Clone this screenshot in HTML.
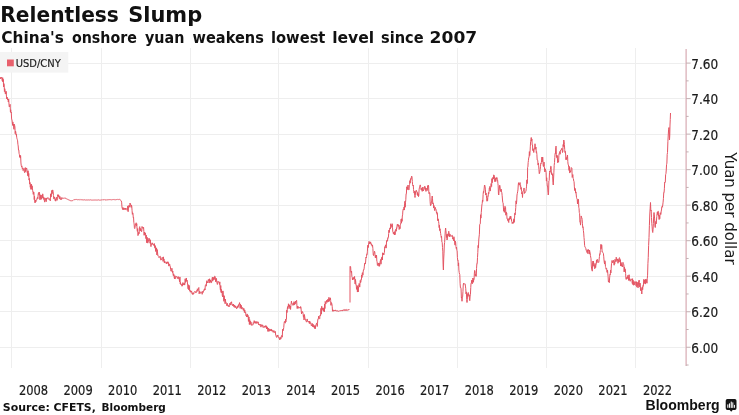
<!DOCTYPE html>
<html lang="en">
<head>
<meta charset="utf-8">
<title>Relentless Slump</title>
<style>
html,body{margin:0;padding:0;background:#fff;}
body{width:739px;height:415px;overflow:hidden;position:relative;font-family:"DejaVu Sans","Liberation Sans",sans-serif;}
svg{position:absolute;left:0;top:0;display:block;}
.t1{font-family:"DejaVu Sans","Liberation Sans",sans-serif;font-weight:bold;font-size:20.5px;fill:#111;}
.t2{font-family:"DejaVu Sans","Liberation Sans",sans-serif;font-weight:bold;font-size:15.5px;fill:#111;}
.src{font-family:"DejaVu Sans","Liberation Sans",sans-serif;font-weight:bold;font-size:11px;fill:#111;}
.ax text{font-family:"DejaVu Sans Condensed","DejaVu Sans","Liberation Sans",sans-serif;font-stretch:condensed;font-size:14px;fill:#1a1a1a;stroke:#1a1a1a;stroke-width:0.2px;}
.lg{font-family:"DejaVu Sans","Liberation Sans",sans-serif;font-size:10px;fill:#1a1a1a;stroke:#1a1a1a;stroke-width:0.15px;}
.yt{font-family:"DejaVu Sans","Liberation Sans",sans-serif;font-size:15px;fill:#1a1a1a;}
.bb{font-family:"Liberation Sans",sans-serif;font-weight:bold;font-size:13.8px;fill:#111;}
.grid line{stroke:#eeeeee;stroke-width:1;shape-rendering:crispEdges;}
.tk line{stroke:#c4b0b3;stroke-width:1;}
</style>
</head>
<body>
<svg width="739" height="415" viewBox="0 0 739 415">
<rect x="0" y="0" width="739" height="415" fill="#ffffff"/>
<g class="grid">
<line x1="11.40" y1="48" x2="11.40" y2="367.5" />
<line x1="101.40" y1="48" x2="101.40" y2="367.5" />
<line x1="190.10" y1="48" x2="190.10" y2="367.5" />
<line x1="278.10" y1="48" x2="278.10" y2="367.5" />
<line x1="368.10" y1="48" x2="368.10" y2="367.5" />
<line x1="457.30" y1="48" x2="457.30" y2="367.5" />
<line x1="546.50" y1="48" x2="546.50" y2="367.5" />
<line x1="635.10" y1="48" x2="635.10" y2="367.5" />
<line x1="0" y1="63.10" x2="685.7" y2="63.10" />
<line x1="0" y1="98.62" x2="685.7" y2="98.62" />
<line x1="0" y1="134.14" x2="685.7" y2="134.14" />
<line x1="0" y1="169.66" x2="685.7" y2="169.66" />
<line x1="0" y1="205.18" x2="685.7" y2="205.18" />
<line x1="0" y1="240.70" x2="685.7" y2="240.70" />
<line x1="0" y1="276.22" x2="685.7" y2="276.22" />
<line x1="0" y1="311.74" x2="685.7" y2="311.74" />
<line x1="0" y1="347.26" x2="685.7" y2="347.26" />
</g>
<rect x="0" y="52" width="68.3" height="20.6" fill="#f4f4f4"/>
<rect x="7" y="59.5" width="6.8" height="6.8" fill="#e8606c"/>
<text class="lg" x="15.8" y="66.8" textLength="45" lengthAdjust="spacingAndGlyphs">USD/CNY</text>
<path d="M0.50,79.00 L0.83,77.08 L1.17,78.24 L1.50,77.50 L1.80,77.39 L2.10,80.11 L2.40,81.18 L2.70,77.71 L3.00,82.00 L3.29,79.35 L3.57,86.92 L3.86,83.55 L4.14,84.50 L4.43,91.58 L4.71,88.63 L5.00,90.00 L5.29,93.62 L5.57,91.82 L5.86,94.08 L6.14,91.27 L6.43,96.05 L6.71,98.87 L7.00,97.00 L7.33,97.82 L7.67,99.95 L8.00,99.00 L8.33,102.00 L8.67,98.93 L9.00,104.00 L9.28,107.01 L9.56,106.71 L9.84,105.45 L10.12,104.34 L10.41,111.85 L10.69,109.79 L10.97,112.71 L11.25,112.00 L11.62,118.95 L12.00,120.00 L12.29,122.59 L12.58,125.12 L12.88,121.93 L13.17,126.01 L13.46,124.15 L13.75,128.90 L14.04,129.37 L14.33,124.19 L14.62,125.41 L14.92,126.96 L15.21,133.71 L15.50,131.00 L15.80,132.05 L16.10,135.09 L16.40,134.10 L16.70,137.26 L17.00,138.75 L17.30,139.48 L17.60,140.84 L17.90,144.29 L18.20,145.91 L18.50,150.03 L18.80,149.92 L19.10,153.47 L19.40,154.53 L19.70,157.20 L20.00,155.00 L20.31,158.05 L20.62,155.81 L20.94,162.97 L21.25,165.50 L21.56,166.75 L21.88,165.85 L22.19,168.70 L22.50,168.75 L22.81,167.87 L23.12,170.65 L23.44,169.89 L23.75,169.01 L24.06,168.39 L24.38,171.87 L24.69,172.70 L25.00,171.00 L25.33,167.57 L25.67,171.68 L26.00,169.00 L26.30,168.98 L26.60,167.96 L26.90,169.30 L27.20,172.57 L27.50,171.50 L27.81,175.78 L28.12,170.69 L28.44,176.52 L28.75,173.45 L29.06,180.08 L29.38,178.43 L29.69,184.10 L30.00,182.50 L30.30,187.25 L30.60,184.54 L30.90,189.39 L31.20,185.02 L31.50,184.20 L31.80,189.28 L32.10,185.84 L32.40,188.14 L32.70,190.78 L33.00,192.50 L33.31,194.42 L33.61,191.93 L33.92,192.10 L34.22,199.59 L34.53,196.33 L34.83,202.41 L35.14,202.98 L35.44,199.99 L35.75,202.00 L36.05,200.74 L36.35,200.26 L36.65,200.27 L36.95,198.95 L37.25,197.71 L37.55,197.24 L37.85,198.79 L38.15,194.45 L38.45,192.91 L38.75,192.50 L39.03,195.09 L39.31,192.20 L39.59,193.57 L39.88,199.73 L40.16,197.04 L40.44,198.13 L40.72,194.81 L41.00,199.50 L41.29,198.49 L41.57,198.98 L41.86,195.10 L42.14,198.20 L42.43,197.80 L42.71,193.84 L43.00,196.00 L43.29,197.71 L43.57,197.17 L43.86,199.54 L44.14,197.71 L44.43,201.19 L44.71,202.14 L45.00,201.00 L45.31,198.39 L45.62,198.19 L45.94,200.70 L46.25,201.67 L46.56,197.96 L46.88,198.55 L47.19,198.81 L47.50,198.00 L47.81,197.56 L48.12,197.98 L48.44,198.03 L48.75,198.50 L49.06,199.62 L49.38,198.73 L49.69,199.28 L50.00,200.00 L50.31,200.87 L50.62,193.81 L50.94,196.79 L51.25,196.83 L51.56,192.27 L51.88,190.34 L52.19,193.62 L52.50,190.00 L52.81,189.96 L53.12,191.56 L53.44,195.49 L53.75,198.00 L54.03,199.05 L54.31,196.90 L54.59,198.04 L54.88,198.33 L55.16,200.59 L55.44,199.25 L55.72,201.18 L56.00,200.00 L56.29,197.21 L56.57,197.76 L56.86,199.29 L57.14,200.30 L57.43,196.81 L57.71,194.73 L58.00,196.00 L58.30,194.73 L58.60,196.67 L58.90,195.57 L59.20,198.35 L59.50,198.75 L59.80,196.36 L60.10,197.02 L60.40,199.45 L60.70,199.05 L61.00,198.75 L61.31,199.63 L61.62,198.16 L61.92,197.45 L62.23,198.44 L62.54,198.58 L62.85,198.31 L63.15,198.28 L63.46,198.26 L63.77,198.20 L64.08,198.14 L64.38,198.28 L64.69,197.92 L65.00,198.00 L65.30,197.95 L65.60,198.48 L65.90,198.60 L66.20,198.79 L66.50,198.72 L66.80,199.08 L67.10,199.22 L67.40,199.09 L67.70,199.45 L68.00,199.63 L68.30,199.72 L68.60,199.81 L68.90,199.87 L69.20,200.04 L69.50,200.14 L69.80,200.23 L70.10,200.59 L70.40,200.61 L70.70,200.97 L71.00,201.00 L71.31,200.70 L71.62,200.93 L71.92,200.73 L72.23,200.71 L72.54,200.58 L72.85,200.47 L73.15,200.22 L73.46,199.88 L73.77,200.06 L74.08,199.71 L74.38,199.65 L74.69,199.68 L75.00,199.50 L75.30,199.53 L75.61,199.50 L75.91,199.72 L76.21,199.61 L76.52,199.51 L76.82,199.49 L77.12,199.75 L77.42,199.61 L77.73,199.75 L78.03,199.59 L78.33,199.55 L78.64,199.70 L78.94,199.82 L79.24,199.58 L79.55,199.84 L79.85,199.91 L80.15,199.88 L80.45,199.90 L80.76,199.59 L81.06,199.85 L81.36,199.96 L81.67,199.65 L81.97,199.76 L82.27,199.77 L82.58,199.89 L82.88,199.86 L83.18,199.90 L83.48,200.03 L83.79,199.74 L84.09,199.78 L84.39,199.82 L84.70,199.83 L85.00,200.00 L85.30,199.83 L85.60,200.19 L85.90,200.14 L86.20,199.83 L86.50,200.00 L86.80,199.93 L87.10,199.93 L87.40,199.94 L87.70,200.06 L88.00,200.03 L88.30,199.94 L88.60,199.88 L88.90,199.93 L89.20,199.85 L89.50,200.02 L89.80,200.09 L90.10,199.95 L90.40,199.83 L90.70,199.87 L91.00,199.95 L91.30,200.04 L91.60,200.11 L91.90,199.95 L92.20,200.12 L92.50,200.05 L92.80,199.97 L93.10,199.95 L93.40,200.00 L93.70,200.08 L94.00,199.97 L94.30,200.08 L94.60,199.98 L94.90,199.90 L95.20,200.01 L95.50,200.08 L95.80,199.83 L96.10,199.97 L96.40,199.97 L96.70,200.15 L97.00,200.17 L97.30,199.95 L97.60,200.16 L97.90,200.12 L98.20,199.90 L98.50,199.99 L98.80,199.85 L99.10,200.13 L99.40,200.06 L99.70,200.15 L100.00,200.00 L100.30,200.11 L100.60,200.05 L100.90,200.07 L101.19,200.00 L101.49,199.80 L101.79,199.99 L102.09,199.75 L102.39,199.80 L102.69,200.04 L102.99,199.74 L103.28,199.75 L103.58,199.75 L103.88,200.06 L104.18,199.77 L104.48,199.70 L104.78,200.02 L105.07,199.72 L105.37,200.00 L105.67,199.93 L105.97,199.99 L106.27,200.02 L106.57,199.87 L106.87,199.95 L107.16,199.64 L107.46,199.92 L107.76,199.81 L108.06,199.88 L108.36,199.63 L108.66,199.88 L108.96,199.95 L109.25,199.59 L109.55,199.69 L109.85,199.78 L110.15,199.88 L110.45,199.64 L110.75,199.60 L111.04,199.62 L111.34,199.76 L111.64,199.81 L111.94,199.66 L112.24,199.64 L112.54,199.65 L112.84,199.62 L113.13,199.64 L113.43,199.50 L113.73,199.66 L114.03,199.84 L114.33,199.61 L114.63,199.73 L114.93,199.49 L115.22,199.70 L115.52,199.71 L115.82,199.67 L116.12,199.60 L116.42,199.58 L116.72,199.64 L117.01,199.73 L117.31,199.43 L117.61,199.40 L117.91,199.65 L118.21,199.71 L118.51,199.54 L118.81,199.51 L119.10,199.61 L119.40,199.39 L119.70,199.41 L120.00,199.50 L120.31,199.75 L120.62,200.28 L120.94,200.55 L121.25,201.00 L121.62,202.16 L122.00,207.50 L122.30,208.39 L122.60,209.53 L122.90,207.36 L123.20,209.04 L123.50,208.19 L123.80,209.98 L124.10,209.21 L124.40,208.26 L124.70,208.28 L125.00,209.50 L125.31,208.07 L125.62,209.44 L125.94,209.15 L126.25,208.52 L126.56,209.08 L126.88,208.97 L127.19,210.32 L127.50,209.50 L127.81,205.91 L128.12,211.71 L128.44,206.90 L128.75,207.02 L129.06,205.19 L129.38,207.23 L129.69,206.32 L130.00,203.00 L130.29,203.90 L130.58,203.96 L130.88,206.02 L131.17,207.42 L131.46,205.08 L131.75,206.25 L132.05,210.32 L132.35,214.34 L132.65,212.75 L132.95,213.14 L133.25,217.50 L133.54,217.10 L133.83,222.53 L134.12,223.87 L134.42,227.74 L134.71,228.59 L135.00,227.50 L135.29,225.05 L135.58,224.05 L135.88,223.91 L136.17,222.78 L136.46,225.83 L136.75,223.75 L137.05,228.80 L137.35,231.37 L137.65,228.59 L137.95,235.60 L138.25,235.00 L138.54,232.50 L138.83,232.32 L139.12,233.66 L139.42,227.60 L139.71,226.61 L140.00,228.75 L140.29,230.91 L140.58,228.49 L140.88,229.25 L141.17,230.84 L141.46,231.75 L141.75,231.25 L142.06,226.47 L142.38,228.09 L142.69,227.94 L143.00,227.50 L143.29,228.46 L143.57,227.38 L143.86,231.38 L144.14,235.34 L144.43,232.01 L144.71,234.27 L145.00,235.00 L145.31,232.81 L145.62,234.81 L145.94,238.63 L146.25,235.10 L146.56,241.93 L146.88,242.88 L147.19,237.32 L147.50,241.25 L147.79,243.14 L148.08,239.76 L148.38,241.43 L148.67,240.93 L148.96,238.10 L149.25,238.75 L149.54,240.84 L149.82,241.38 L150.11,243.28 L150.39,239.78 L150.68,244.30 L150.96,246.63 L151.25,243.75 L151.56,244.39 L151.88,244.05 L152.19,242.82 L152.50,244.11 L152.81,243.76 L153.12,245.00 L153.44,244.97 L153.75,244.50 L154.06,245.67 L154.38,243.57 L154.69,247.62 L155.00,248.20 L155.31,245.61 L155.62,251.45 L155.94,250.44 L156.25,250.00 L156.56,247.84 L156.88,254.93 L157.19,249.55 L157.50,251.81 L157.81,255.63 L158.12,255.45 L158.44,255.90 L158.75,256.25 L159.04,257.72 L159.33,257.07 L159.62,256.69 L159.92,256.37 L160.21,256.23 L160.50,259.50 L160.79,260.10 L161.07,260.03 L161.36,259.02 L161.64,259.54 L161.93,257.90 L162.21,257.34 L162.50,258.00 L162.81,257.84 L163.12,261.43 L163.44,256.86 L163.75,260.28 L164.06,259.25 L164.38,263.04 L164.69,261.04 L165.00,262.50 L165.31,262.05 L165.62,262.33 L165.94,262.81 L166.25,263.58 L166.56,262.36 L166.88,263.94 L167.19,261.75 L167.50,263.00 L167.81,262.28 L168.12,261.84 L168.44,262.31 L168.75,266.00 L169.06,266.15 L169.38,263.89 L169.69,264.31 L170.00,266.25 L170.31,266.38 L170.62,269.71 L170.94,271.06 L171.25,271.31 L171.56,270.87 L171.88,268.18 L172.19,270.93 L172.50,272.50 L172.79,271.03 L173.08,274.55 L173.38,275.78 L173.67,273.84 L173.96,275.13 L174.25,278.00 L174.54,278.87 L174.82,275.63 L175.11,278.46 L175.39,278.56 L175.68,278.54 L175.96,276.03 L176.25,276.25 L176.56,276.58 L176.88,276.84 L177.19,277.17 L177.50,278.47 L177.81,277.66 L178.12,276.51 L178.44,278.55 L178.75,277.50 L179.04,278.21 L179.33,279.96 L179.62,281.77 L179.92,276.95 L180.21,283.78 L180.50,282.50 L180.80,284.51 L181.10,283.94 L181.40,284.93 L181.70,285.19 L182.00,286.25 L182.29,284.23 L182.58,285.57 L182.88,282.58 L183.17,284.59 L183.46,284.93 L183.75,283.75 L184.04,282.86 L184.32,283.10 L184.61,285.07 L184.89,284.11 L185.18,278.75 L185.46,282.40 L185.75,280.00 L186.04,281.59 L186.33,277.97 L186.62,280.95 L186.92,280.67 L187.21,280.17 L187.50,284.00 L187.79,285.02 L188.07,288.78 L188.36,284.76 L188.64,289.75 L188.93,289.09 L189.21,285.43 L189.50,289.00 L189.79,291.13 L190.08,290.24 L190.38,292.21 L190.67,291.56 L190.96,292.05 L191.25,291.25 L191.56,290.90 L191.88,293.31 L192.19,294.21 L192.50,294.24 L192.81,292.69 L193.12,294.46 L193.44,293.59 L193.75,294.00 L194.06,292.25 L194.38,291.74 L194.69,291.63 L195.00,291.85 L195.31,291.45 L195.62,292.49 L195.94,293.02 L196.25,292.00 L196.54,291.73 L196.82,290.53 L197.11,291.40 L197.39,288.82 L197.68,289.28 L197.96,290.55 L198.25,288.50 L198.54,288.48 L198.83,287.51 L199.12,293.87 L199.42,293.21 L199.71,291.21 L200.00,293.00 L200.31,292.67 L200.62,293.21 L200.94,293.48 L201.25,292.41 L201.56,291.79 L201.88,292.48 L202.19,294.30 L202.50,293.50 L202.81,291.22 L203.12,292.42 L203.44,290.61 L203.75,290.25 L204.06,289.61 L204.38,290.38 L204.69,288.73 L205.00,290.00 L205.31,285.38 L205.62,285.08 L205.94,284.60 L206.25,286.17 L206.56,281.88 L206.88,280.65 L207.19,283.03 L207.50,282.50 L207.79,281.75 L208.08,282.76 L208.38,279.45 L208.67,280.73 L208.96,280.36 L209.25,280.50 L209.54,278.78 L209.82,283.05 L210.11,280.16 L210.39,279.92 L210.68,281.82 L210.96,280.79 L211.25,282.50 L211.54,282.74 L211.83,280.30 L212.12,278.23 L212.42,277.16 L212.71,281.11 L213.00,279.00 L213.30,277.48 L213.60,279.64 L213.90,277.63 L214.20,279.56 L214.50,277.00 L214.78,276.17 L215.06,276.42 L215.34,277.16 L215.62,281.80 L215.91,281.07 L216.19,279.61 L216.47,278.40 L216.75,282.00 L217.06,283.02 L217.36,284.46 L217.67,283.21 L217.97,281.10 L218.28,281.48 L218.58,282.01 L218.89,282.61 L219.19,282.34 L219.50,284.50 L219.81,281.86 L220.12,287.39 L220.44,290.15 L220.75,285.54 L221.06,292.41 L221.38,289.38 L221.69,292.77 L222.00,291.25 L222.31,295.60 L222.62,296.87 L222.94,290.90 L223.25,294.10 L223.56,297.55 L223.88,301.30 L224.19,295.69 L224.50,300.00 L224.79,299.16 L225.08,303.73 L225.38,299.14 L225.67,301.72 L225.96,301.95 L226.25,303.75 L226.56,304.63 L226.88,305.76 L227.19,303.21 L227.50,305.50 L227.81,305.70 L228.12,306.29 L228.44,305.48 L228.75,305.50 L229.06,306.98 L229.38,304.29 L229.69,304.20 L230.00,303.10 L230.31,305.12 L230.62,303.54 L230.94,302.33 L231.25,303.00 L231.56,301.78 L231.88,304.90 L232.19,304.74 L232.50,305.66 L232.81,304.47 L233.12,305.37 L233.44,304.14 L233.75,306.25 L234.06,307.11 L234.38,304.96 L234.69,306.61 L235.00,307.74 L235.31,307.63 L235.62,305.84 L235.94,306.46 L236.25,307.50 L236.55,308.66 L236.85,307.50 L237.15,308.21 L237.45,307.88 L237.75,305.79 L238.05,307.38 L238.35,306.39 L238.65,304.39 L238.95,304.25 L239.25,304.50 L239.56,302.61 L239.86,304.89 L240.17,308.43 L240.47,304.21 L240.78,307.24 L241.08,305.18 L241.39,305.49 L241.69,309.10 L242.00,308.75 L242.30,307.99 L242.60,307.49 L242.90,308.14 L243.20,310.31 L243.50,310.33 L243.80,308.34 L244.10,309.45 L244.40,312.57 L244.70,309.91 L245.00,311.25 L245.31,312.44 L245.62,312.08 L245.94,315.52 L246.25,314.91 L246.56,317.02 L246.88,315.83 L247.19,313.93 L247.50,317.00 L247.81,315.35 L248.12,315.32 L248.44,321.42 L248.75,316.94 L249.06,316.99 L249.38,324.51 L249.69,319.63 L250.00,322.50 L250.29,324.45 L250.57,321.31 L250.86,323.21 L251.14,322.47 L251.43,325.33 L251.71,324.70 L252.00,324.50 L252.31,324.79 L252.62,324.98 L252.94,325.14 L253.25,322.60 L253.56,323.37 L253.88,322.39 L254.19,320.66 L254.50,322.00 L254.80,323.16 L255.10,322.50 L255.40,323.30 L255.70,321.47 L256.00,322.62 L256.30,322.49 L256.60,323.42 L256.90,321.46 L257.20,322.41 L257.50,323.00 L257.81,323.19 L258.12,321.85 L258.44,323.95 L258.75,324.90 L259.06,323.95 L259.38,325.07 L259.69,325.16 L260.00,325.00 L260.31,324.20 L260.62,324.81 L260.94,327.13 L261.25,325.07 L261.56,325.55 L261.88,324.54 L262.19,325.15 L262.50,326.25 L262.81,325.20 L263.12,327.47 L263.44,326.81 L263.75,327.22 L264.06,327.51 L264.38,326.34 L264.69,327.26 L265.00,326.02 L265.31,325.63 L265.62,327.19 L265.94,327.01 L266.25,325.75 L266.56,328.94 L266.88,326.72 L267.19,328.96 L267.50,327.32 L267.81,331.35 L268.12,331.42 L268.44,328.24 L268.75,330.00 L269.05,331.36 L269.34,329.13 L269.64,328.91 L269.93,330.86 L270.23,329.60 L270.52,330.33 L270.82,330.74 L271.11,328.97 L271.41,331.15 L271.70,329.77 L272.00,330.50 L272.31,330.49 L272.62,330.40 L272.94,332.18 L273.25,332.45 L273.56,330.93 L273.88,330.48 L274.19,331.48 L274.50,332.50 L274.80,332.45 L275.10,331.22 L275.40,331.96 L275.70,335.26 L276.00,335.34 L276.30,337.04 L276.60,337.43 L276.90,337.31 L277.20,335.26 L277.50,336.25 L277.79,334.98 L278.07,336.06 L278.36,337.14 L278.64,337.80 L278.93,338.24 L279.21,337.72 L279.50,338.75 L279.81,339.93 L280.12,337.21 L280.44,337.66 L280.75,339.14 L281.06,338.49 L281.38,336.02 L281.69,335.47 L282.00,336.25 L282.29,337.18 L282.58,329.51 L282.88,329.00 L283.17,330.66 L283.46,329.24 L283.75,327.50 L284.06,323.64 L284.38,321.49 L284.69,321.44 L285.00,322.50 L285.29,323.18 L285.57,319.38 L285.86,321.95 L286.14,319.01 L286.43,319.10 L286.71,310.30 L287.00,312.50 L287.29,309.00 L287.58,306.62 L287.88,308.85 L288.17,307.07 L288.46,303.79 L288.75,306.25 L289.06,307.18 L289.38,304.78 L289.69,306.86 L290.00,308.75 L290.29,305.96 L290.57,309.46 L290.86,305.65 L291.14,303.60 L291.43,301.09 L291.71,303.27 L292.00,303.00 L292.29,303.75 L292.58,304.19 L292.88,305.38 L293.17,305.22 L293.46,303.25 L293.75,304.50 L294.04,301.65 L294.33,305.05 L294.62,304.71 L294.92,302.39 L295.21,303.89 L295.50,301.25 L295.79,302.37 L296.07,300.96 L296.36,300.81 L296.64,300.34 L296.93,305.94 L297.21,308.63 L297.50,306.25 L297.81,307.77 L298.12,306.45 L298.44,307.27 L298.75,308.31 L299.06,308.08 L299.38,307.53 L299.69,307.06 L300.00,307.50 L300.31,308.25 L300.62,306.54 L300.94,307.25 L301.25,311.23 L301.56,313.93 L301.88,311.57 L302.19,311.26 L302.50,312.50 L302.81,312.13 L303.12,313.71 L303.44,317.21 L303.75,315.25 L304.06,319.99 L304.38,314.50 L304.69,316.53 L305.00,318.75 L305.31,319.16 L305.62,319.00 L305.94,321.18 L306.25,321.39 L306.56,322.14 L306.88,321.10 L307.19,318.95 L307.50,321.25 L307.81,321.66 L308.12,321.73 L308.44,321.68 L308.75,321.14 L309.06,322.73 L309.38,323.57 L309.69,321.01 L310.00,322.50 L310.31,323.53 L310.62,322.58 L310.94,323.50 L311.25,325.43 L311.56,326.02 L311.88,324.98 L312.19,323.39 L312.50,325.00 L312.81,326.87 L313.12,324.27 L313.44,325.30 L313.75,327.26 L314.06,325.54 L314.38,325.62 L314.69,328.48 L315.00,327.00 L315.31,328.78 L315.62,325.29 L315.94,325.25 L316.25,324.30 L316.56,323.16 L316.88,323.33 L317.19,326.52 L317.50,323.75 L317.81,319.37 L318.12,319.45 L318.44,318.13 L318.75,316.10 L319.06,318.49 L319.38,319.08 L319.69,318.73 L320.00,315.00 L320.29,315.13 L320.57,315.69 L320.86,308.46 L321.14,309.73 L321.43,314.13 L321.71,306.28 L322.00,308.75 L322.29,307.95 L322.58,309.49 L322.88,308.79 L323.17,310.66 L323.46,308.46 L323.75,311.25 L324.04,307.73 L324.33,311.90 L324.62,304.10 L324.92,308.58 L325.21,301.45 L325.50,302.50 L325.79,304.06 L326.07,302.76 L326.36,302.48 L326.64,300.52 L326.93,300.03 L327.21,302.35 L327.50,301.25 L327.79,299.34 L328.07,299.05 L328.36,301.73 L328.64,301.62 L328.93,297.30 L329.21,301.32 L329.50,298.75 L329.79,299.62 L330.08,299.17 L330.38,297.84 L330.67,300.47 L330.96,305.33 L331.25,302.50 L331.56,302.98 L331.88,304.00 L332.19,306.30 L332.50,311.25 L332.81,309.84 L333.12,310.76 L333.44,311.28 L333.75,310.12 L334.06,310.10 L334.38,310.84 L334.69,310.75 L335.00,310.00 L335.31,310.73 L335.62,310.01 L335.94,310.29 L336.25,311.17 L336.56,310.76 L336.88,311.18 L337.19,310.87 L337.50,311.25 L337.81,310.61 L338.12,310.94 L338.44,311.36 L338.75,311.34 L339.06,311.02 L339.38,310.83 L339.69,310.86 L340.00,310.68 L340.31,310.73 L340.62,311.02 L340.94,310.20 L341.25,310.50 L341.56,310.57 L341.88,310.94 L342.19,310.79 L342.50,309.95 L342.81,310.85 L343.12,310.66 L343.44,309.81 L343.75,309.89 L344.06,309.77 L344.38,309.55 L344.69,310.62 L345.00,310.00 L345.30,309.89 L345.60,310.45 L345.90,309.54 L346.20,309.42 L346.50,310.44 L346.80,310.35 L347.10,310.59 L347.40,310.22 L347.70,310.03 L348.00,310.32 L348.30,309.51 L348.60,310.05 L348.90,309.93 L349.20,309.58 L349.50,310.00" fill="none" stroke="#e45563" stroke-width="1" stroke-linejoin="round"/>
<path d="M350.00,302.50 L350.00,266.25 L350.31,266.44 L350.62,266.65 L350.94,272.11 L351.25,272.50 L351.56,271.04 L351.88,276.53 L352.19,277.08 L352.50,280.00 L352.79,278.16 L353.08,279.61 L353.38,277.67 L353.67,278.92 L353.96,277.37 L354.25,278.75 L354.54,276.45 L354.82,279.95 L355.11,283.98 L355.39,279.39 L355.68,281.06 L355.96,285.10 L356.25,285.00 L356.54,289.33 L356.83,287.27 L357.12,286.69 L357.42,292.05 L357.71,285.63 L358.00,290.00 L358.29,291.90 L358.57,286.57 L358.86,284.55 L359.14,283.45 L359.43,284.04 L359.71,287.11 L360.00,283.75 L360.29,280.37 L360.57,282.60 L360.86,282.15 L361.14,279.18 L361.43,279.66 L361.71,274.98 L362.00,277.50 L362.29,272.81 L362.58,272.71 L362.88,275.16 L363.17,271.94 L363.46,269.80 L363.75,270.00 L364.06,268.92 L364.38,266.13 L364.69,263.19 L365.00,263.00 L365.31,264.05 L365.62,262.05 L365.94,257.25 L366.25,258.00 L366.54,256.41 L366.83,253.86 L367.12,254.43 L367.42,251.12 L367.71,245.51 L368.00,245.00 L368.38,247.50 L368.75,242.50 L369.06,241.38 L369.38,242.54 L369.69,243.83 L370.00,241.96 L370.31,243.24 L370.62,241.89 L370.94,244.16 L371.25,243.75 L371.56,245.18 L371.88,244.68 L372.19,246.28 L372.50,245.00 L372.88,248.55 L373.25,255.00 L373.56,255.59 L373.88,253.86 L374.19,252.81 L374.50,251.25 L374.79,251.95 L375.08,255.99 L375.38,257.84 L375.67,255.21 L375.96,257.74 L376.25,257.50 L376.54,255.11 L376.83,261.15 L377.12,261.77 L377.42,265.51 L377.71,265.22 L378.00,263.75 L378.30,262.99 L378.60,264.08 L378.90,266.23 L379.20,262.97 L379.50,266.25 L379.79,265.12 L380.08,261.99 L380.38,260.76 L380.67,259.48 L380.96,264.18 L381.25,261.25 L381.54,257.32 L381.83,257.20 L382.12,257.27 L382.42,259.98 L382.71,252.77 L383.00,255.00 L383.29,253.53 L383.57,253.24 L383.86,254.78 L384.14,253.20 L384.43,252.48 L384.71,246.84 L385.00,247.50 L385.31,246.06 L385.62,244.84 L385.94,248.15 L386.25,247.95 L386.56,240.87 L386.88,240.29 L387.19,239.94 L387.50,241.25 L387.79,237.71 L388.08,238.22 L388.38,237.57 L388.67,233.57 L388.96,230.09 L389.25,232.50 L389.55,230.12 L389.85,227.98 L390.15,227.77 L390.45,229.03 L390.75,223.75 L391.04,225.73 L391.33,225.11 L391.62,226.46 L391.92,227.50 L392.21,223.71 L392.50,227.50 L392.79,231.69 L393.07,231.83 L393.36,233.64 L393.64,234.11 L393.93,232.02 L394.21,233.14 L394.50,235.00 L394.79,231.56 L395.08,234.70 L395.38,230.02 L395.67,229.43 L395.96,229.81 L396.25,231.25 L396.54,227.78 L396.83,228.34 L397.12,225.26 L397.42,224.02 L397.71,224.36 L398.00,226.25 L398.29,224.69 L398.57,226.31 L398.86,225.04 L399.14,229.48 L399.43,228.58 L399.71,226.71 L400.00,228.75 L400.29,225.15 L400.58,224.23 L400.88,222.69 L401.17,219.14 L401.46,223.14 L401.75,218.75 L402.04,221.35 L402.32,215.98 L402.61,214.87 L402.89,210.52 L403.18,209.40 L403.46,210.02 L403.75,210.00 L404.04,206.92 L404.33,210.07 L404.62,203.61 L404.92,201.28 L405.21,207.27 L405.50,202.50 L405.80,199.72 L406.10,193.74 L406.40,193.84 L406.70,186.81 L407.00,187.50 L407.33,186.89 L407.67,189.57 L408.00,185.00 L408.33,189.50 L408.67,189.86 L409.00,190.00 L409.30,185.89 L409.60,184.46 L409.90,180.65 L410.20,183.12 L410.50,178.75 L410.80,178.55 L411.10,179.34 L411.40,176.91 L411.70,176.07 L412.00,177.00 L412.31,181.43 L412.62,184.78 L412.94,185.75 L413.25,185.00 L413.54,189.47 L413.83,191.65 L414.12,193.12 L414.42,191.20 L414.71,195.55 L415.00,197.50 L415.29,195.33 L415.58,191.74 L415.88,190.69 L416.17,191.61 L416.46,190.41 L416.75,191.25 L417.05,192.87 L417.35,194.91 L417.65,192.44 L417.95,195.80 L418.25,193.75 L418.53,196.62 L418.81,195.42 L419.09,189.88 L419.38,187.82 L419.66,186.93 L419.94,185.76 L420.22,184.88 L420.50,186.25 L420.79,187.58 L421.07,189.87 L421.36,190.03 L421.64,188.26 L421.93,189.90 L422.21,191.37 L422.50,190.00 L422.79,187.03 L423.08,189.96 L423.38,190.94 L423.67,189.68 L423.96,188.99 L424.25,187.00 L424.54,187.25 L424.82,186.17 L425.11,189.46 L425.39,187.62 L425.68,190.23 L425.96,191.41 L426.25,189.50 L426.54,188.54 L426.83,188.15 L427.12,190.59 L427.42,189.01 L427.71,185.69 L428.00,187.00 L428.30,185.19 L428.60,186.48 L428.90,193.46 L429.20,193.79 L429.50,192.50 L429.81,192.87 L430.12,201.30 L430.44,205.62 L430.75,205.00 L431.04,205.19 L431.33,201.75 L431.62,202.25 L431.92,197.96 L432.21,196.00 L432.50,198.75 L432.79,203.88 L433.08,202.83 L433.38,203.33 L433.67,207.97 L433.96,205.53 L434.25,207.50 L434.54,210.41 L434.82,210.65 L435.11,207.27 L435.39,208.06 L435.68,208.86 L435.96,209.06 L436.25,211.25 L436.54,213.17 L436.83,211.87 L437.12,214.37 L437.42,213.37 L437.71,220.70 L438.00,218.75 L438.29,219.04 L438.57,221.28 L438.86,223.69 L439.14,227.62 L439.43,225.27 L439.71,230.58 L440.00,228.75 L440.31,230.95 L440.62,233.37 L440.94,235.50 L441.25,237.50 L441.56,236.25 L441.88,242.03 L442.19,242.53 L442.50,247.50 L442.80,251.13 L443.10,264.83 L443.40,270.00 L443.70,259.11 L444.00,253.13 L444.30,245.00 L444.62,242.51 L444.95,236.94 L445.28,230.89 L445.60,228.00 L445.88,230.54 L446.16,233.23 L446.44,237.42 L446.72,234.53 L447.00,240.00 L447.29,239.01 L447.58,235.12 L447.88,233.88 L448.17,236.29 L448.46,232.77 L448.75,231.25 L449.04,232.52 L449.33,234.86 L449.62,236.84 L449.92,233.97 L450.21,236.09 L450.50,236.00 L450.79,235.95 L451.07,235.89 L451.36,236.38 L451.64,235.57 L451.93,235.75 L452.21,235.50 L452.50,235.50 L452.79,239.03 L453.07,237.98 L453.36,239.74 L453.64,240.75 L453.93,236.74 L454.21,239.33 L454.50,239.50 L454.79,244.46 L455.08,245.15 L455.38,241.17 L455.67,242.55 L455.96,246.55 L456.25,248.50 L456.54,247.08 L456.83,250.31 L457.12,250.92 L457.42,257.49 L457.71,260.30 L458.00,260.00 L458.30,265.90 L458.60,262.90 L458.90,270.09 L459.20,272.45 L459.50,274.00 L459.81,274.59 L460.12,283.74 L460.44,287.77 L460.75,287.50 L461.06,288.75 L461.38,297.90 L461.69,297.02 L462.00,301.25 L462.31,297.09 L462.62,296.95 L462.94,291.66 L463.25,285.00 L463.56,283.25 L463.88,284.08 L464.19,284.13 L464.50,283.75 L464.81,283.75 L465.12,283.88 L465.44,286.08 L465.75,288.75 L466.06,293.92 L466.38,291.88 L466.69,299.48 L467.00,302.50 L467.31,299.54 L467.62,293.74 L467.94,293.69 L468.25,292.50 L468.56,295.34 L468.88,296.35 L469.19,294.73 L469.50,300.00 L469.81,300.66 L470.12,296.00 L470.44,294.30 L470.75,287.50 L471.06,283.17 L471.38,283.17 L471.69,280.16 L472.00,282.50 L472.29,283.85 L472.58,279.62 L472.88,278.00 L473.17,279.45 L473.46,282.29 L473.75,278.75 L474.06,279.36 L474.38,273.12 L474.69,270.39 L475.00,271.25 L475.31,275.77 L475.62,274.30 L475.94,276.56 L476.25,276.25 L476.56,268.36 L476.88,263.42 L477.19,263.66 L477.50,257.50 L477.81,252.54 L478.12,245.41 L478.44,247.79 L478.75,240.00 L479.06,236.99 L479.38,234.23 L479.69,224.57 L480.00,223.75 L480.31,223.72 L480.62,214.74 L480.94,218.14 L481.25,212.50 L481.56,209.01 L481.88,205.00 L482.19,203.54 L482.50,200.00 L482.81,201.45 L483.12,194.44 L483.44,191.48 L483.75,192.50 L484.12,188.96 L484.50,185.00 L484.81,185.46 L485.12,186.95 L485.44,189.86 L485.75,195.00 L486.06,193.06 L486.38,195.80 L486.69,198.22 L487.00,201.25 L487.29,198.48 L487.58,200.77 L487.88,195.86 L488.17,196.25 L488.46,192.49 L488.75,193.75 L489.04,191.66 L489.32,188.21 L489.61,189.12 L489.89,186.40 L490.18,191.10 L490.46,188.79 L490.75,187.50 L491.04,183.62 L491.33,184.39 L491.62,186.52 L491.92,178.60 L492.21,182.70 L492.50,178.75 L492.80,177.47 L493.10,177.21 L493.40,179.11 L493.70,174.92 L494.00,175.00 L494.30,176.05 L494.60,178.46 L494.90,181.76 L495.20,177.77 L495.50,180.00 L495.80,181.44 L496.10,180.21 L496.40,179.29 L496.70,177.44 L497.00,177.50 L497.29,179.23 L497.58,179.86 L497.88,183.36 L498.17,185.82 L498.46,193.96 L498.75,195.00 L499.06,190.91 L499.38,188.00 L499.69,185.20 L500.00,186.25 L500.30,190.06 L500.60,191.44 L500.90,191.03 L501.20,189.15 L501.50,192.00 L501.83,192.66 L502.17,195.72 L502.50,200.00 L502.81,202.50 L503.12,202.95 L503.44,208.01 L503.75,211.25 L504.06,208.15 L504.38,212.35 L504.69,211.19 L505.00,206.25 L505.29,208.40 L505.57,207.83 L505.86,215.24 L506.14,211.91 L506.43,214.06 L506.71,213.07 L507.00,218.75 L507.29,218.54 L507.58,219.82 L507.88,220.64 L508.17,219.13 L508.46,221.91 L508.75,222.50 L509.04,218.36 L509.33,219.58 L509.62,217.71 L509.92,219.29 L510.21,216.12 L510.50,218.75 L510.79,216.24 L511.07,218.57 L511.36,218.65 L511.64,221.44 L511.93,221.61 L512.21,223.56 L512.50,222.50 L512.79,222.97 L513.07,222.81 L513.36,223.31 L513.64,219.65 L513.93,218.71 L514.21,222.38 L514.50,218.75 L514.81,213.20 L515.12,214.87 L515.44,211.43 L515.75,207.50 L516.06,200.82 L516.38,203.87 L516.69,201.18 L517.00,195.00 L517.31,193.49 L517.62,191.82 L517.94,189.94 L518.25,185.00 L518.54,182.70 L518.83,184.29 L519.12,183.77 L519.42,185.09 L519.71,184.51 L520.00,182.50 L520.31,186.30 L520.62,185.66 L520.94,189.31 L521.25,187.50 L521.56,191.43 L521.88,194.01 L522.19,192.89 L522.50,197.50 L522.81,191.97 L523.12,190.89 L523.44,190.79 L523.75,190.00 L524.06,187.97 L524.38,193.50 L524.69,192.27 L525.00,192.50 L525.31,192.56 L525.62,191.61 L525.94,191.10 L526.25,188.75 L526.56,186.17 L526.88,179.88 L527.19,183.57 L527.50,178.75 L527.60,167.50 L527.89,166.94 L528.17,162.52 L528.46,160.27 L528.75,157.50 L529.06,157.49 L529.38,151.62 L529.69,155.60 L530.00,152.50 L530.31,146.82 L530.62,141.68 L530.94,139.42 L531.25,137.50 L531.56,141.16 L531.88,138.95 L532.19,145.00 L532.50,145.00 L532.81,150.59 L533.12,148.70 L533.44,149.71 L533.75,152.50 L534.06,150.15 L534.38,149.56 L534.69,148.02 L535.00,143.75 L535.31,146.85 L535.62,149.24 L535.94,147.02 L536.25,152.50 L536.56,151.62 L536.88,154.33 L537.19,160.02 L537.50,160.00 L537.79,160.77 L538.08,165.11 L538.38,163.07 L538.67,165.74 L538.96,169.65 L539.25,173.75 L539.56,173.22 L539.88,171.50 L540.19,169.50 L540.50,166.25 L540.79,163.37 L541.07,163.88 L541.36,162.22 L541.64,160.99 L541.93,157.02 L542.21,161.82 L542.50,157.50 L542.81,157.03 L543.12,164.98 L543.44,166.53 L543.75,165.00 L544.04,162.07 L544.33,166.35 L544.62,170.00 L544.92,171.98 L545.21,168.77 L545.50,170.00 L545.80,170.70 L546.10,172.74 L546.40,180.98 L546.70,177.74 L547.00,182.50 L547.31,186.26 L547.62,185.96 L547.94,192.06 L548.25,195.00 L548.56,192.91 L548.88,180.88 L549.19,180.62 L549.50,172.50 L549.81,171.01 L550.12,172.39 L550.44,169.40 L550.75,166.25 L551.06,166.34 L551.38,173.73 L551.69,172.70 L552.00,175.00 L552.31,173.79 L552.62,176.13 L552.94,182.44 L553.25,185.00 L553.56,178.99 L553.88,172.21 L554.19,165.32 L554.50,162.50 L554.81,157.53 L555.12,153.57 L555.44,153.90 L555.75,147.50 L556.06,146.11 L556.38,154.46 L556.69,157.65 L557.00,157.50 L557.31,155.47 L557.62,162.70 L557.94,161.97 L558.25,161.25 L558.56,162.19 L558.88,155.24 L559.19,153.69 L559.50,152.50 L559.79,151.52 L560.08,154.28 L560.38,151.72 L560.67,150.10 L560.96,150.04 L561.25,150.00 L561.56,149.12 L561.88,148.22 L562.19,149.20 L562.50,152.50 L562.81,151.99 L563.12,144.58 L563.44,146.52 L563.75,140.00 L564.06,141.17 L564.38,144.42 L564.69,149.46 L565.00,152.50 L565.31,151.33 L565.62,154.01 L565.94,159.81 L566.25,157.50 L566.56,159.45 L566.88,158.34 L567.19,156.50 L567.50,155.00 L567.81,161.35 L568.12,164.69 L568.44,164.76 L568.75,167.50 L569.06,170.46 L569.38,166.49 L569.69,173.06 L570.00,172.50 L570.31,170.87 L570.62,171.97 L570.94,169.88 L571.25,167.50 L571.56,168.02 L571.88,168.36 L572.19,177.39 L572.50,176.25 L572.81,174.59 L573.12,178.53 L573.44,178.78 L573.75,181.25 L574.06,181.55 L574.38,186.86 L574.69,190.59 L575.00,188.75 L575.31,188.44 L575.62,193.09 L575.94,191.88 L576.25,195.00 L576.56,197.70 L576.88,198.68 L577.19,199.16 L577.50,204.00 L577.83,200.03 L578.17,199.05 L578.50,200.00 L578.77,207.33 L579.03,208.31 L579.30,212.50 L579.62,213.65 L579.93,222.34 L580.25,222.50 L580.56,225.12 L580.88,219.61 L581.19,215.94 L581.50,217.50 L581.81,217.60 L582.12,219.31 L582.44,223.77 L582.75,227.50 L583.06,226.81 L583.38,230.47 L583.69,233.12 L584.00,237.50 L584.31,240.54 L584.62,245.52 L584.94,246.95 L585.25,247.50 L585.54,247.65 L585.83,248.49 L586.12,250.19 L586.42,249.87 L586.71,250.40 L587.00,252.50 L587.29,250.04 L587.57,250.72 L587.86,253.67 L588.14,249.27 L588.43,250.73 L588.71,250.98 L589.00,250.00 L589.29,254.08 L589.57,250.28 L589.86,251.96 L590.14,253.04 L590.43,255.47 L590.71,257.08 L591.00,258.75 L591.33,266.04 L591.67,268.97 L592.00,270.00 L592.30,271.16 L592.60,262.77 L592.90,261.10 L593.20,264.63 L593.50,261.25 L593.81,266.21 L594.12,264.79 L594.44,267.55 L594.75,268.75 L595.04,263.39 L595.33,264.99 L595.62,267.70 L595.92,265.46 L596.21,264.23 L596.50,260.00 L596.79,262.89 L597.08,259.52 L597.38,259.20 L597.67,259.86 L597.96,262.20 L598.25,262.50 L598.55,262.17 L598.85,262.44 L599.15,258.98 L599.45,256.65 L599.75,253.75 L600.04,254.36 L600.33,250.50 L600.62,249.78 L600.92,244.33 L601.21,248.66 L601.50,245.00 L601.81,244.79 L602.12,252.03 L602.44,251.76 L602.75,252.50 L603.06,252.84 L603.38,253.35 L603.69,256.19 L604.00,260.00 L604.29,262.31 L604.58,264.05 L604.88,260.72 L605.17,261.65 L605.46,266.44 L605.75,267.50 L606.05,269.15 L606.35,268.63 L606.65,268.34 L606.95,272.29 L607.25,272.50 L607.54,270.14 L607.83,273.87 L608.12,276.57 L608.42,281.91 L608.71,280.92 L609.00,281.25 L609.31,282.68 L609.62,277.93 L609.94,274.49 L610.25,275.00 L610.56,270.21 L610.88,272.97 L611.19,268.16 L611.50,263.75 L611.79,262.33 L612.08,260.41 L612.38,262.49 L612.67,263.00 L612.96,261.25 L613.25,261.25 L613.55,260.33 L613.85,263.23 L614.15,265.23 L614.45,261.66 L614.75,263.75 L615.04,259.28 L615.33,260.82 L615.62,260.63 L615.92,261.84 L616.21,257.23 L616.50,258.75 L616.79,260.72 L617.08,260.83 L617.38,260.03 L617.67,258.87 L617.96,263.29 L618.25,261.25 L618.55,259.65 L618.85,262.12 L619.15,258.18 L619.45,257.63 L619.75,258.75 L620.04,262.03 L620.33,259.65 L620.62,266.03 L620.92,263.72 L621.21,262.56 L621.50,266.25 L621.79,264.39 L622.08,264.98 L622.38,265.86 L622.67,266.93 L622.96,262.32 L623.25,263.75 L623.55,264.42 L623.85,264.51 L624.15,271.95 L624.45,266.96 L624.75,271.25 L625.04,268.80 L625.33,269.90 L625.62,273.54 L625.92,278.52 L626.21,279.45 L626.50,277.50 L626.79,278.15 L627.08,278.92 L627.38,278.47 L627.67,276.04 L627.96,275.30 L628.25,276.25 L628.54,280.36 L628.82,279.60 L629.11,274.74 L629.39,280.39 L629.68,278.87 L629.96,279.55 L630.25,281.25 L630.54,280.42 L630.83,279.61 L631.12,278.79 L631.42,279.60 L631.71,279.66 L632.00,280.00 L632.29,283.44 L632.57,278.67 L632.86,284.57 L633.14,280.28 L633.43,281.76 L633.71,285.26 L634.00,283.75 L634.29,284.73 L634.58,283.08 L634.88,281.46 L635.17,282.82 L635.46,282.24 L635.75,282.50 L636.04,285.71 L636.32,281.61 L636.61,283.24 L636.89,287.17 L637.18,282.18 L637.46,285.15 L637.75,286.25 L638.04,287.84 L638.33,286.89 L638.62,281.12 L638.92,280.45 L639.21,280.02 L639.50,282.50 L639.79,287.03 L640.07,283.10 L640.36,288.18 L640.64,290.61 L640.93,287.49 L641.21,288.22 L641.50,291.25 L641.79,293.99 L642.08,290.50 L642.38,286.89 L642.67,289.61 L642.96,285.65 L643.25,286.25 L643.56,282.94 L643.88,279.25 L644.19,283.56 L644.50,280.00 L644.80,282.93 L645.10,281.78 L645.40,284.08 L645.70,279.23 L646.00,282.50 L646.31,279.49 L646.62,280.43 L646.94,283.25 L647.25,278.75 L647.58,275.21 L647.92,263.70 L648.25,257.50 L648.62,245.56 L649.00,237.50 L649.38,225.70 L649.75,215.00 L650.12,208.70 L650.50,202.50 L650.83,210.84 L651.17,210.03 L651.50,217.50 L651.81,223.61 L652.12,226.86 L652.44,231.27 L652.75,232.50 L653.06,229.63 L653.38,223.34 L653.69,216.16 L654.00,212.50 L654.31,214.84 L654.62,218.92 L654.94,225.95 L655.25,227.50 L655.56,222.34 L655.88,221.39 L656.19,223.85 L656.50,220.00 L656.79,216.57 L657.08,213.69 L657.38,211.99 L657.67,214.58 L657.96,211.35 L658.25,211.25 L658.55,216.50 L658.85,217.24 L659.15,219.56 L659.45,215.42 L659.75,218.75 L660.04,214.05 L660.33,212.69 L660.62,214.36 L660.92,214.55 L661.21,211.04 L661.50,210.00 L661.81,206.68 L662.12,206.85 L662.44,207.19 L662.75,205.00 L663.08,202.19 L663.42,198.60 L663.75,192.50 L664.06,192.71 L664.38,188.78 L664.69,182.05 L665.00,182.50 L665.31,182.03 L665.62,174.64 L665.94,173.65 L666.25,170.00 L666.56,164.63 L666.88,163.11 L667.19,154.53 L667.50,152.50 L667.88,141.78 L668.25,135.00 L668.62,129.26 L669.00,127.50 L669.25,131.05 L669.50,140.00 L669.75,135.50 L670.00,125.00 L670.25,119.61 L670.50,113.00" fill="none" stroke="#e45563" stroke-width="1" stroke-linejoin="round"/>
<line x1="686.15" y1="49" x2="686.15" y2="366" stroke="#e3c3c9" stroke-width="1.7"/>
<g class="tk">
<line x1="686" y1="63.10" x2="690.6" y2="63.10" />
<line x1="686" y1="80.86" x2="688.6" y2="80.86" />
<line x1="686" y1="98.62" x2="690.6" y2="98.62" />
<line x1="686" y1="116.38" x2="688.6" y2="116.38" />
<line x1="686" y1="134.14" x2="690.6" y2="134.14" />
<line x1="686" y1="151.90" x2="688.6" y2="151.90" />
<line x1="686" y1="169.66" x2="690.6" y2="169.66" />
<line x1="686" y1="187.42" x2="688.6" y2="187.42" />
<line x1="686" y1="205.18" x2="690.6" y2="205.18" />
<line x1="686" y1="222.94" x2="688.6" y2="222.94" />
<line x1="686" y1="240.70" x2="690.6" y2="240.70" />
<line x1="686" y1="258.46" x2="688.6" y2="258.46" />
<line x1="686" y1="276.22" x2="690.6" y2="276.22" />
<line x1="686" y1="293.98" x2="688.6" y2="293.98" />
<line x1="686" y1="311.74" x2="690.6" y2="311.74" />
<line x1="686" y1="329.50" x2="688.6" y2="329.50" />
<line x1="686" y1="347.26" x2="690.6" y2="347.26" />
<line x1="686" y1="365.02" x2="688.6" y2="365.02" />
</g>
<g class="ax">
<text x="691.3" y="68.50" textLength="26.9" lengthAdjust="spacingAndGlyphs">7.60</text>
<text x="691.3" y="104.02" textLength="26.9" lengthAdjust="spacingAndGlyphs">7.40</text>
<text x="691.3" y="139.54" textLength="26.9" lengthAdjust="spacingAndGlyphs">7.20</text>
<text x="691.3" y="175.06" textLength="26.9" lengthAdjust="spacingAndGlyphs">7.00</text>
<text x="691.3" y="210.58" textLength="26.9" lengthAdjust="spacingAndGlyphs">6.80</text>
<text x="691.3" y="246.10" textLength="26.9" lengthAdjust="spacingAndGlyphs">6.60</text>
<text x="691.3" y="281.62" textLength="26.9" lengthAdjust="spacingAndGlyphs">6.40</text>
<text x="691.3" y="317.14" textLength="26.9" lengthAdjust="spacingAndGlyphs">6.20</text>
<text x="691.3" y="352.66" textLength="26.9" lengthAdjust="spacingAndGlyphs">6.00</text>
<text x="18.93" y="394.7" textLength="29.2" lengthAdjust="spacingAndGlyphs">2008</text>
<text x="63.51" y="394.7" textLength="29.2" lengthAdjust="spacingAndGlyphs">2009</text>
<text x="108.08" y="394.7" textLength="29.2" lengthAdjust="spacingAndGlyphs">2010</text>
<text x="152.65" y="394.7" textLength="29.2" lengthAdjust="spacingAndGlyphs">2011</text>
<text x="197.22" y="394.7" textLength="29.2" lengthAdjust="spacingAndGlyphs">2012</text>
<text x="241.78" y="394.7" textLength="29.2" lengthAdjust="spacingAndGlyphs">2013</text>
<text x="286.35" y="394.7" textLength="29.2" lengthAdjust="spacingAndGlyphs">2014</text>
<text x="330.92" y="394.7" textLength="29.2" lengthAdjust="spacingAndGlyphs">2015</text>
<text x="375.50" y="394.7" textLength="29.2" lengthAdjust="spacingAndGlyphs">2016</text>
<text x="420.06" y="394.7" textLength="29.2" lengthAdjust="spacingAndGlyphs">2017</text>
<text x="464.63" y="394.7" textLength="29.2" lengthAdjust="spacingAndGlyphs">2018</text>
<text x="509.20" y="394.7" textLength="29.2" lengthAdjust="spacingAndGlyphs">2019</text>
<text x="553.77" y="394.7" textLength="29.2" lengthAdjust="spacingAndGlyphs">2020</text>
<text x="598.35" y="394.7" textLength="29.2" lengthAdjust="spacingAndGlyphs">2021</text>
<text x="642.91" y="394.7" textLength="29.2" lengthAdjust="spacingAndGlyphs">2022</text>
</g>
<text class="yt" transform="translate(724.7,152.2) rotate(90)" textLength="112.4" lengthAdjust="spacingAndGlyphs">Yuan per dollar</text>
<text class="t1" y="22.4"><tspan x="0.3" textLength="118.6" lengthAdjust="spacingAndGlyphs">Relentless</tspan> <tspan x="128.2" textLength="74.0" lengthAdjust="spacingAndGlyphs">Slump</tspan></text>
<text class="t2" y="42.8"><tspan x="1.3" textLength="62.6" lengthAdjust="spacingAndGlyphs">China's</tspan> <tspan x="71.9" textLength="65.0" lengthAdjust="spacingAndGlyphs">onshore</tspan> <tspan x="145.0" textLength="39.4" lengthAdjust="spacingAndGlyphs">yuan</tspan> <tspan x="192.6" textLength="71.2" lengthAdjust="spacingAndGlyphs">weakens</tspan> <tspan x="271.0" textLength="54.4" lengthAdjust="spacingAndGlyphs">lowest</tspan> <tspan x="332.2" textLength="42.0" lengthAdjust="spacingAndGlyphs">level</tspan> <tspan x="381.0" textLength="42.6" lengthAdjust="spacingAndGlyphs">since</tspan> <tspan x="429.6" textLength="47.6" lengthAdjust="spacingAndGlyphs">2007</tspan></text>
<text class="src" y="410.6"><tspan x="2.8" textLength="47.0" lengthAdjust="spacingAndGlyphs">Source:</tspan> <tspan x="53.6" textLength="42.2" lengthAdjust="spacingAndGlyphs">CFETS,</tspan> <tspan x="101.6" textLength="64.3" lengthAdjust="spacingAndGlyphs">Bloomberg</tspan></text>
<text class="bb" x="645.5" y="409.6" textLength="74.2" lengthAdjust="spacingAndGlyphs">Bloomberg</text>
<g>
<path d="M727.4,399.1 h7.4 a1.7,1.7 0 0 1 1.7,1.7 v7.4 a1.7,1.7 0 0 1 -1.7,1.7 h-2.1 l-1.5,1.9 l-1.5,-1.9 h-2.3 a1.7,1.7 0 0 1 -1.7,-1.7 v-7.4 a1.7,1.7 0 0 1 1.7,-1.7 z" fill="#151515"/>
<rect x="727.3" y="404.4" width="1.05" height="3.4" fill="#fff"/>
<rect x="728.95" y="403.4" width="1.05" height="4.4" fill="#fff"/>
<rect x="730.7" y="401.6" width="1.1" height="6.3" fill="#fff"/>
<rect x="732.3" y="402.4" width="1.0" height="5.5" fill="#fff"/>
<rect x="733.95" y="404.9" width="0.95" height="2.9" fill="#fff"/>
</g>
</svg>
</body>
</html>
